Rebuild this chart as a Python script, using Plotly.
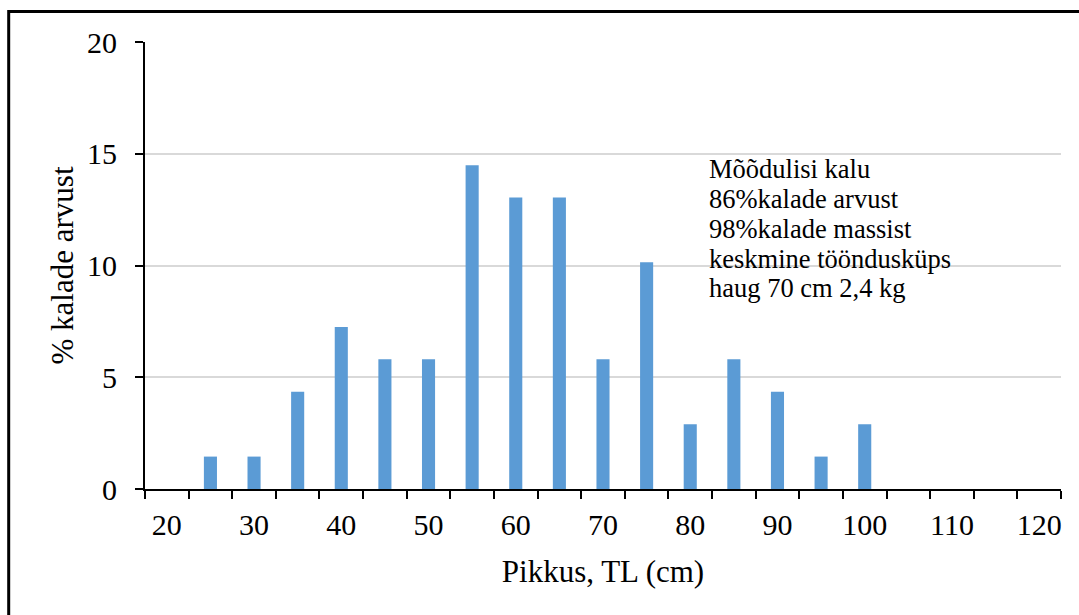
import plotly.graph_objects as go

# Length classes (cm, class midpoints) and share of fish in each class (%)
lengths = [20, 25, 30, 35, 40, 45, 50, 55, 60, 65, 70, 75, 80, 85, 90, 95, 100, 105, 110, 115, 120]
percent = [0, 1.45, 1.45, 4.35, 7.25, 5.8, 5.8, 14.49, 13.04, 13.04, 5.8, 10.14, 2.9, 5.8, 4.35, 1.45, 2.9, 0, 0, 0, 0]

x_labels = [20, 30, 40, 50, 60, 70, 80, 90, 100, 110, 120]
class_bounds = [17.5 + 5 * i for i in range(22)]

note_lines = [
    "Mõõdulisi kalu",
    "86%kalade arvust",
    "98%kalade massist",
    "keskmine tööndusküps",
    "haug 70 cm 2,4 kg",
]

FONT = "Times New Roman, Liberation Serif, serif"
W, H = 1079, 615
L, R, T, B = 145, 18, 42, 126
pw, ph = W - L - R, H - T - B

fig = go.Figure(
    go.Bar(
        x=lengths,
        y=percent,
        width=1.5,
        marker=dict(color="#5B9BD5", line=dict(width=0)),
    )
)

fig.update_layout(
    width=W,
    height=H,
    margin=dict(l=L, r=R, t=T, b=B, pad=0),
    paper_bgcolor="white",
    plot_bgcolor="white",
    showlegend=False,
    font=dict(family=FONT, color="black", size=30),
)

fig.update_xaxes(
    range=[17.5, 122.5],
    tickvals=x_labels,
    ticktext=[str(v) for v in x_labels],
    ticks="",
    ticklabelstandoff=8,
    tickfont=dict(family=FONT, size=30, color="black"),
    showline=True,
    linecolor="black",
    linewidth=2,
    showgrid=False,
    zeroline=False,
    minor=dict(tickvals=class_bounds, ticks="outside", ticklen=8, tickwidth=2, tickcolor="black", showgrid=False),
    title=dict(text="Pikkus, TL (cm)", font=dict(family=FONT, size=31, color="black"), standoff=20),
)

fig.update_yaxes(
    range=[0, 20],
    tickvals=[0, 5, 10, 15, 20],
    ticks="outside",
    ticklen=8,
    tickwidth=2,
    tickcolor="black",
    ticklabelstandoff=12,
    tickfont=dict(family=FONT, size=30, color="black"),
    showline=True,
    linecolor="black",
    linewidth=2,
    showgrid=True,
    gridcolor="#D9D9D9",
    gridwidth=2,
    zeroline=False,
    title=dict(text="% kalade arvust", font=dict(family=FONT, size=31, color="black"), standoff=4),
)

# Note block, one annotation per line
line_y = [169, 199, 229, 259, 288]
for txt, yy in zip(note_lines, line_y):
    fig.add_annotation(
        text=txt,
        xref="paper",
        yref="paper",
        x=(707 - L) / pw,
        y=1 - (yy - T) / ph,
        xanchor="left",
        yanchor="middle",
        showarrow=False,
        font=dict(family=FONT, size=26.5, color="black"),
    )

# Outer frame around the chart
fig.add_shape(
    type="rect",
    xref="paper",
    yref="paper",
    x0=(8.7 - L) / pw,
    x1=(W + 20 - L) / pw,
    y0=1 - (H + 20 - T) / ph,
    y1=1 - (11.5 - T) / ph,
    line=dict(color="black", width=3),
    fillcolor="rgba(0,0,0,0)",
    layer="above",
)

fig.write_html("out.html")
